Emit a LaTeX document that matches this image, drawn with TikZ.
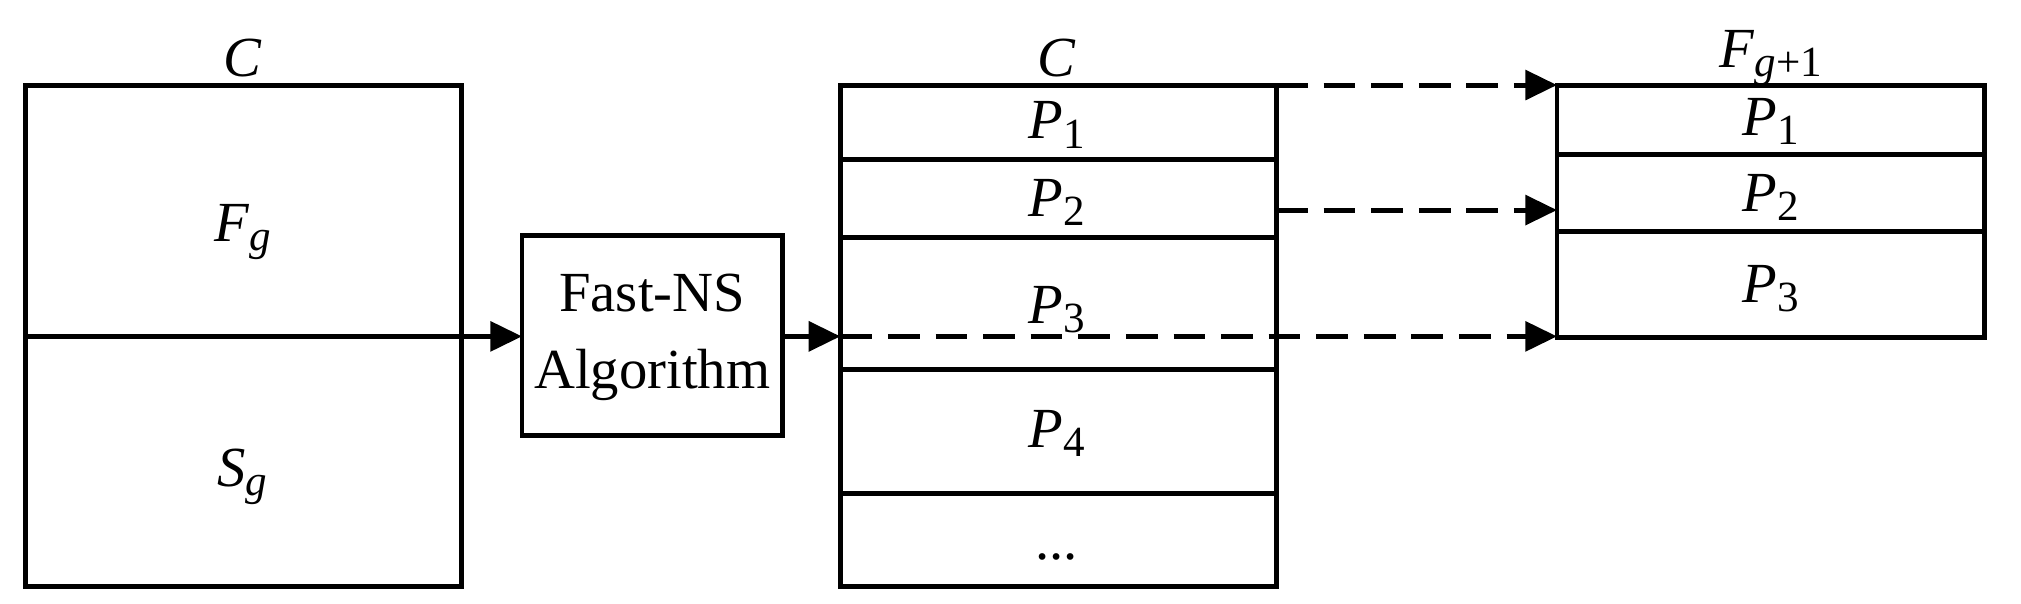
\documentclass[tikz,border=0pt]{standalone}
\usepackage{fontspec}
\setmainfont{Liberation Serif}
\usetikzlibrary{arrows.meta}
\newcommand{\vv}[2]{\textit{#1}\raisebox{-0.35ex}{\fontsize{9.5}{11}\selectfont #2}}
\begin{document}
\begin{tikzpicture}[x=0.01cm,y=-0.01cm,line width=1.1pt,
  lbl/.style={font=\fontsize{12.5}{15}\selectfont},
  arr/.style={-{Triangle[length=7pt,width=6.5pt]}},
  dsh/.style={arr,dash pattern=on 7pt off 3.5pt}]
\useasboundingbox (0,0) rectangle (1568,468);
% left box
\draw (20,66) rectangle (358,455);
\draw (20,261) -- (358,261);
\node[lbl] (cl) at (188,45) {\textit{C}};
\node[lbl] (fg) at (188,180) {\vv{F}{\textit{g}}};
\node[lbl] (sg) at (188,370) {\vv{S}{\textit{g}}};
\coordinate (lout) at (358,261);
% fast-ns
\draw (405,183) rectangle (607,338);
\node[lbl,align=center] (nst) at (506,262) {Fast-NS\\[2pt]Algorithm};
\coordinate (nsin) at (405,261);
\coordinate (nsout) at (607,261);
\draw[arr] (lout) -- (nsin);
% middle stack
\draw (652,66) rectangle (990,455);
\foreach \y in {124,184,287,383} \draw (652,\y) -- (990,\y);
\node[lbl] (cm) at (820,45) {\textit{C}};
\node[lbl] (m1) at (820,97) {\vv{P}{1}};
\node[lbl] (m2) at (820,157) {\vv{P}{2}};
\node[lbl] (m3) at (820,240) {\vv{P}{3}};
\node[lbl] (m4) at (820,336) {\vv{P}{4}};
\node[lbl] (m5) at (820,432) {...};
\coordinate (min) at (652,261);
\draw[arr] (nsout) -- (min);
% right stack
\draw (1208,66) rectangle (1540,262);
\draw (1208,120) -- (1540,120);
\draw (1208,180) -- (1540,180);
\node[lbl] (fr) at (1374,45) {\vv{F}{\textit{g}+1}};
\node[lbl] (r1) at (1374,94) {\vv{P}{1}};
\node[lbl] (r2) at (1374,153) {\vv{P}{2}};
\node[lbl] (r3) at (1374,224) {\vv{P}{3}};
% dashed connectors
\coordinate (a1) at (990,66); \coordinate (b1) at (1208,66);
\coordinate (a2) at (990,163); \coordinate (b2) at (1208,163);
\coordinate (b3) at (1208,261);
\draw[dsh] (a1) -- (b1);
\draw[dsh] (a2) -- (b2);
\draw[dsh] (min) -- (b3);
\end{tikzpicture}
\end{document}
